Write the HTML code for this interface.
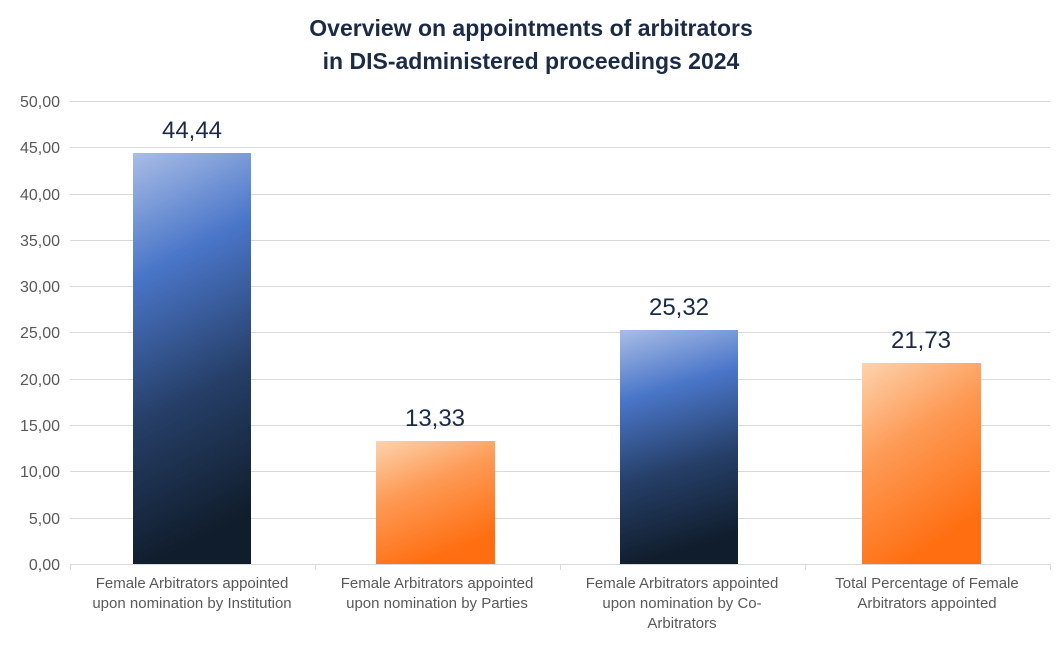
<!DOCTYPE html>
<html><head><meta charset="utf-8"><style>
body{margin:0;background:#fff;}
svg text{font-family:"Liberation Sans",Arial,sans-serif;}
</style></head><body>
<svg width="1063" height="642" viewBox="0 0 1063 642" xmlns="http://www.w3.org/2000/svg">
<defs>
<linearGradient id="bl" x1="0" y1="0" x2="0.15" y2="1">
<stop offset="0" stop-color="#a9bde6"/>
<stop offset="0.3" stop-color="#4a76c9"/>
<stop offset="0.65" stop-color="#263f68"/>
<stop offset="1" stop-color="#101d2c"/>
</linearGradient>
<linearGradient id="or" x1="0" y1="0" x2="0.4" y2="1">
<stop offset="0" stop-color="#fdd3ae"/>
<stop offset="0.45" stop-color="#fd9a55"/>
<stop offset="1" stop-color="#ff6e10"/>
</linearGradient>
</defs>
<rect width="1063" height="642" fill="#fff"/>
<text x="531" y="36" text-anchor="middle" font-size="23" font-weight="bold" fill="#1b2a45">Overview on appointments of arbitrators</text>
<text x="531" y="69" text-anchor="middle" font-size="23" font-weight="bold" fill="#1b2a45">in DIS-administered proceedings 2024</text>
<g stroke="#d9d9d9" stroke-width="1">
<line x1="70" x2="1050" y1="101.5" y2="101.5"/>
<line x1="70" x2="1050" y1="147.5" y2="147.5"/>
<line x1="70" x2="1050" y1="194.5" y2="194.5"/>
<line x1="70" x2="1050" y1="240.5" y2="240.5"/>
<line x1="70" x2="1050" y1="286.5" y2="286.5"/>
<line x1="70" x2="1050" y1="332.5" y2="332.5"/>
<line x1="70" x2="1050" y1="379.5" y2="379.5"/>
<line x1="70" x2="1050" y1="425.5" y2="425.5"/>
<line x1="70" x2="1050" y1="471.5" y2="471.5"/>
<line x1="70" x2="1050" y1="518.5" y2="518.5"/>
<line x1="70" x2="1050" y1="564.5" y2="564.5"/>
<line x1="70.5" x2="70.5" y1="564" y2="570"/>
<line x1="315.5" x2="315.5" y1="564" y2="570"/>
<line x1="560.5" x2="560.5" y1="564" y2="570"/>
<line x1="805.5" x2="805.5" y1="564" y2="570"/>
<line x1="1050.5" x2="1050.5" y1="564" y2="570"/>
</g>
<g font-size="16" fill="#595959" text-anchor="end">
<text x="60" y="107">50,00</text><text x="60" y="153">45,00</text><text x="60" y="200">40,00</text>
<text x="60" y="246">35,00</text><text x="60" y="292">30,00</text><text x="60" y="338">25,00</text>
<text x="60" y="385">20,00</text><text x="60" y="431">15,00</text><text x="60" y="477">10,00</text>
<text x="60" y="524">5,00</text><text x="60" y="570">0,00</text>
</g>
<rect x="133" y="153" width="118" height="411" fill="url(#bl)"/>
<rect x="376" y="441" width="119" height="123" fill="url(#or)"/>
<rect x="620" y="330" width="118" height="234" fill="url(#bl)"/>
<rect x="862" y="363" width="119" height="201" fill="url(#or)"/>
<g font-size="24" fill="#1b2a45" text-anchor="middle">
<text x="192" y="138">44,44</text>
<text x="435" y="426">13,33</text>
<text x="679" y="315">25,32</text>
<text x="921" y="348">21,73</text>
</g>
<g font-size="15" fill="#595959" text-anchor="middle">
<text x="192" y="588">Female Arbitrators appointed</text>
<text x="192" y="608">upon nomination by Institution</text>
<text x="437" y="588">Female Arbitrators appointed</text>
<text x="437" y="608">upon nomination by Parties</text>
<text x="682" y="588">Female Arbitrators appointed</text>
<text x="682" y="608">upon nomination by Co-</text>
<text x="682" y="628">Arbitrators</text>
<text x="927" y="588">Total Percentage of Female</text>
<text x="927" y="608">Arbitrators appointed</text>
</g>
</svg>
</body></html>
